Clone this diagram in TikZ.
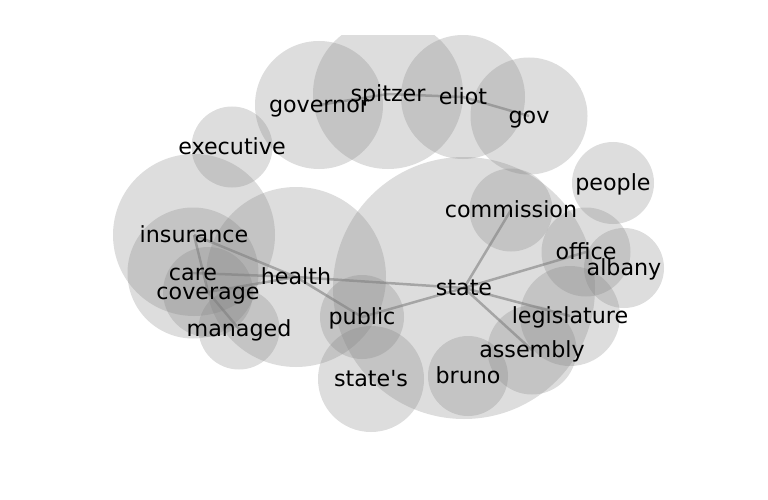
\documentclass[tikz,border=0pt]{standalone}
\usepackage{fontspec}
\setmainfont{DejaVu Sans}
\newfontfamily\dejavu{DejaVu Sans}
\begin{document}
\begin{tikzpicture}[x=1pt,y=-1pt,
  blob/.style={fill=gray,fill opacity=0.27},
  link/.style={draw=gray,draw opacity=0.6,line width=2.5pt},
  word/.style={inner sep=0pt,text height=0.76em,text depth=0.24em,yshift=-5pt,
    font=\dejavu\fontsize{22.2}{26}\selectfont}]
\useasboundingbox (0,0) rectangle (768,500);
% positions
\coordinate (governor) at (319,105);
\coordinate (spitzer) at (388,94);
\coordinate (eliot) at (463,97);
\coordinate (gov) at (529,116);
\coordinate (executive) at (232,147);
\coordinate (people) at (613,183);
\coordinate (commission) at (511,210);
\coordinate (insurance) at (194,235);
\coordinate (care) at (193,273);
\coordinate (coverage) at (208,292);
\coordinate (health) at (296,277);
\coordinate (managed) at (239,329);
\coordinate (public) at (362,317);
\coordinate (statesp) at (371,379);
\coordinate (state) at (464,288);
\coordinate (office) at (586,252);
\coordinate (albany) at (624,268);
\coordinate (legislature) at (570,316);
\coordinate (assembly) at (532,350);
\coordinate (bruno) at (468,376);
% circles
\begin{scope}
\clip (0,36) rectangle (768,500);
\fill[blob] (governor) circle (64);
\fill[blob] (spitzer) circle (75);
\fill[blob] (eliot) circle (62);
\fill[blob] (gov) circle (58.5);
\fill[blob] (executive) circle (40.5);
\fill[blob] (people) circle (41);
\fill[blob] (commission) circle (41.5);
\fill[blob] (insurance) circle (81);
\fill[blob] (care) circle (65.5);
\fill[blob] (coverage) circle (45);
\fill[blob] (health) circle (90);
\fill[blob] (managed) circle (40.5);
\fill[blob] (public) circle (42);
\fill[blob] (statesp) circle (53);
\fill[blob] (state) circle (131);
\fill[blob] (office) circle (44.5);
\fill[blob] (albany) circle (40);
\fill[blob] (legislature) circle (50);
\fill[blob] (assembly) circle (44.5);
\fill[blob] (bruno) circle (40);
\end{scope}
% edges
\draw[link] (governor) -- (spitzer);
\draw[link] (spitzer) -- (eliot);
\draw[link] (eliot) -- (gov);
\draw[link] (insurance) -- (coverage);
\draw[link] (insurance) -- (health);
\draw[link] (care) -- (health);
\draw[link] (coverage) -- (health);
\draw[link] (coverage) -- (managed);
\draw[link] (health) -- (public);
\draw[link] (health) -- (state);
\draw[link] (public) -- (state);
\draw[link] (state) -- (commission);
\draw[link] (state) -- (office);
\draw[link] (state) -- (legislature);
\draw[link] (state) -- (assembly);
% labels
\node[word] (t-governor) at (governor) {governor};
\node[word] (t-spitzer) at (spitzer) {spitzer};
\node[word] (t-eliot) at (eliot) {eliot};
\node[word] (t-gov) at (gov) {gov};
\node[word] (t-executive) at (executive) {executive};
\node[word] (t-people) at (people) {people};
\node[word] (t-commission) at (commission) {commission};
\node[word] (t-insurance) at (insurance) {insurance};
\node[word] (t-care) at (care) {care};
\node[word] (t-coverage) at (coverage) {coverage};
\node[word] (t-health) at (health) {health};
\node[word] (t-managed) at (managed) {managed};
\node[word] (t-public) at (public) {public};
\node[word] (t-statesp) at (statesp) {state's};
\node[word] (t-state) at (state) {state};
\node[word] (t-office) at (office) {office};
\node[word] (t-albany) at (albany) {albany};
\node[word] (t-legislature) at (legislature) {legislature};
\node[word] (t-assembly) at (assembly) {assembly};
\node[word] (t-bruno) at (bruno) {bruno};
\end{tikzpicture}
\end{document}
